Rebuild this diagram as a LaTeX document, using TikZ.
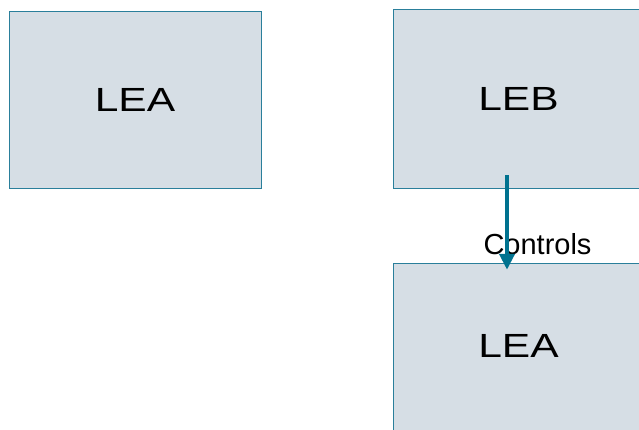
\documentclass[tikz,border=0pt]{standalone}
\usepackage{fontspec}
\setmainfont{Liberation Sans}
\newfontfamily\widefont[FakeStretch=1.27]{Liberation Sans}
\usetikzlibrary{arrows.meta,backgrounds}
\definecolor{boxfill}{HTML}{D6DEE5}
\definecolor{boxline}{HTML}{2A7F9B}
\definecolor{arrowcol}{HTML}{00728F}
\tikzset{
  lebox/.style={draw=boxline, line width=0.8pt, fill=boxfill, inner sep=0pt,
    font=\widefont\fontsize{33.5}{40}\selectfont},
  letext/.style={inner sep=0pt, font=\widefont\fontsize{33.5}{40}\selectfont},
  ctrl/.style={draw=arrowcol, line width=4pt,
    -{Triangle[length=16pt,width=15pt]}},
  lbl/.style={font=\fontsize{29}{34}\selectfont, inner sep=0pt}
}
\begin{document}
\begin{tikzpicture}[x=1pt,y=-1pt]
\useasboundingbox (0,0) rectangle (639,430);
\clip (0,0) rectangle (639,430);
\node[lebox, minimum width=252pt, minimum height=177pt] (lea1) at (135,99.5) {LEA};
\node[lebox, minimum width=250pt, minimum height=179pt] (leb) at (518.5,98.5) {LEB};
\node[letext, minimum width=250pt, minimum height=164pt] (lea2) at (518.5,346) {LEA};
\begin{scope}[on background layer]
\draw[draw=boxline, line width=0.8pt, fill=boxfill] (lea2.north west) rectangle ([yshift=-12pt]lea2.south east);
\end{scope}
\node[lbl] (ctl) at (537.5,244) {Controls};
\draw[ctrl] ([xshift=-11.5pt,yshift=13pt]leb.south) -- ([xshift=-11.5pt,yshift=-6pt]lea2.north);
\end{tikzpicture}
\end{document}
